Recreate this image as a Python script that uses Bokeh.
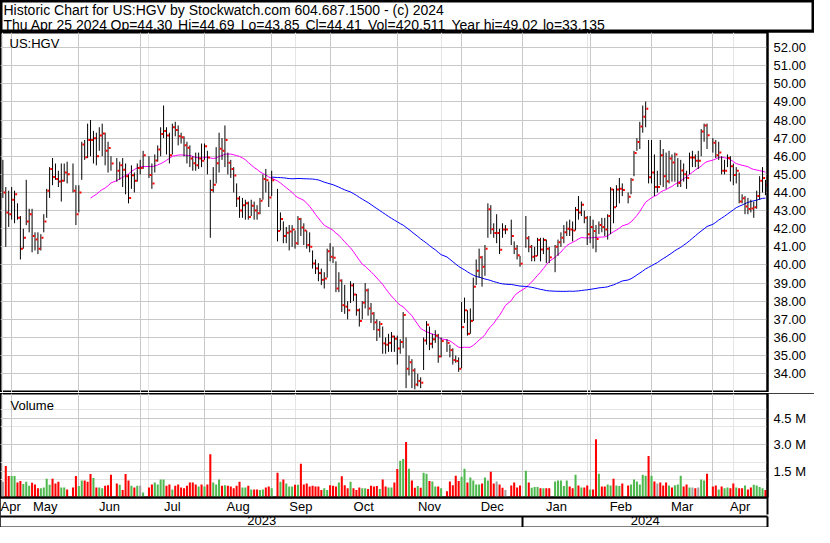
import numpy as np
import pandas as pd
from bokeh.plotting import figure
from bokeh.layouts import column
from bokeh.models import (Range1d, LinearAxis, FixedTicker, Grid, Label,
                          CustomJSTickFormatter, NumeralTickFormatter)
from bokeh.embed import file_html
from bokeh.resources import INLINE
from bokeh.core.properties import value

FONT = "Liberation Sans"

# ---------------- data ----------------
FIRST_DAY = "2023-04-26"
LAST_DAY = "2024-04-25"
HOLIDAYS = ["2023-05-29", "2023-06-19", "2023-07-04", "2023-09-04", "2023-11-23",
            "2023-12-25", "2024-01-01", "2024-01-15", "2024-02-19", "2024-03-29"]

close = [
    44.0, 42.9, 42.8, 43.6, 43.9, 42.6, 40.9, 41.5, 42.4, 42.8, 41.6, 41.4, 40.9, 41.5, 42.4, 44.1, 45.3, 44.85, 44.75, 44.6, 44.65, 45.1, 45.0, 44.1, 42.8,
    44.0, 46.65, 45.95, 46.9, 46.9, 47.0, 46.0, 47.15, 47.25, 46.3, 46.45, 45.6, 45.2, 45.5, 45.25, 44.9, 43.7, 44.95, 44.65, 45.35, 45.35,
    46.06, 44.96, 44.5, 45.76, 46.37, 47.23, 47.4, 47.14, 46.06, 47.6, 47.45, 47.1, 47.05, 46.6, 46.47, 45.88, 45.61, 45.5, 45.88, 45.75,
    46.55, 45.93, 44.13, 44.42, 45.61, 46.42, 46.3, 46.9, 45.64, 45.3, 44.94, 43.67, 43.0, 43.3, 43.4, 42.64, 43.27, 43.0, 42.86, 43.54, 44.74, 44.67, 43.72,
    44.67, 41.88, 42.53, 41.6, 41.78, 41.85, 41.95, 41.2, 42.53, 42.07, 41.9, 41.1, 41.0, 40.08, 39.81, 39.55, 39.18, 39.25, 40.75, 40.45,
    40.4, 38.7, 39.14, 37.78, 37.7, 37.5, 38.87, 38.37, 37.5, 36.91, 37.92, 38.6, 37.6, 37.32, 36.83, 36.42, 36.74, 35.67, 35.6, 35.7, 36.05, 35.93,
    35.39, 35.75, 37.24, 34.27, 34.63, 34.18, 33.4, 33.6, 33.5, 35.83, 36.7, 35.65, 35.9, 36.1, 34.95, 35.8, 35.7, 35.3, 34.75, 34.7, 34.27,
    36.57, 37.5, 36.2, 36.91, 38.8, 39.68, 40.42, 39.9, 40.9, 43.07, 41.97, 41.77, 41.77, 40.84, 41.95, 41.95, 41.6, 40.9, 40.53, 40.07,
    41.47, 41.0, 40.45, 40.5, 41.38, 40.85, 41.38, 40.9, 40.42, 41.0, 41.25, 41.5, 41.8, 42.0, 41.95, 41.9, 43.03, 42.9, 43.32, 42.6, 41.7,
    42.1, 41.88, 41.43, 42.2, 42.1, 41.95, 42.7, 44.17, 43.18, 44.17, 44.2, 44.13, 43.77, 44.7, 46.18, 46.78, 47.64, 48.18, 48.62, 44.84,
    45.1, 44.3, 44.3, 46.06, 44.9, 44.62, 45.88, 45.65, 46.1, 44.53, 45.21, 45.0, 44.8, 45.93, 45.93, 45.75, 45.75, 47.37, 47.7, 47.16,
    46.74, 46.06, 46.2, 45.2, 45.2, 45.9, 45.45, 44.96, 45.2, 43.5, 43.68, 43.23, 43.09, 43.12, 43.18, 43.8, 44.65, 44.8, 44.41,
]
high = [
    45.8, 44.3, 44.1, 44.3, 44.1, 43.4, 42.7, 42.0, 44.7, 43.1, 43.1, 41.8, 41.8, 41.7, 42.8, 44.2, 45.4, 45.9, 45.6, 45.2, 45.6, 45.6, 45.7, 45.6, 44.4,
    44.4, 46.8, 46.9, 47.8, 48.0, 47.4, 47.3, 47.6, 47.8, 47.3, 46.8, 46.0, 45.9, 45.7, 45.9, 45.6, 45.0, 45.5, 45.1, 45.6, 45.8,
    46.3, 46.0, 45.6, 46.1, 46.6, 47.6, 48.8, 47.6, 47.3, 47.8, 47.9, 47.7, 47.3, 47.1, 46.8, 46.6, 46.0, 46.2, 46.2, 46.7,
    46.7, 46.3, 44.7, 45.4, 46.5, 47.3, 47.0, 47.7, 46.2, 45.8, 45.4, 44.5, 43.8, 43.7, 43.6, 43.5, 43.6, 43.5, 43.3, 43.7, 45.0, 45.3, 44.6,
    45.2, 44.2, 42.9, 42.4, 42.1, 42.2, 42.2, 41.9, 42.7, 42.6, 42.3, 41.9, 41.8, 40.8, 40.3, 40.1, 39.8, 39.6, 40.9, 41.2,
    41.0, 40.2, 39.6, 39.2, 38.9, 38.0, 39.1, 39.0, 38.4, 37.6, 38.0, 39.0, 38.7, 37.9, 37.4, 37.0, 36.9, 36.6, 36.0, 36.2, 36.3, 36.1,
    36.1, 35.9, 37.4, 36.0, 35.0, 34.8, 34.3, 34.0, 33.8, 36.0, 36.9, 36.6, 36.2, 36.4, 36.2, 36.0, 35.9, 35.6, 35.4, 35.0, 34.9,
    37.95, 38.2, 37.5, 37.6, 39.3, 40.3, 40.9, 40.5, 41.1, 43.4, 43.3, 42.3, 42.8, 42.0, 42.3, 42.2, 42.5, 41.3, 41.1, 40.5,
    42.7, 41.6, 41.1, 41.0, 41.5, 41.5, 41.5, 41.4, 41.0, 41.1, 41.4, 41.8, 42.2, 42.4, 42.5, 42.4, 43.2, 43.8, 43.5, 43.0, 42.7,
    42.7, 42.5, 42.2, 42.4, 42.6, 42.6, 42.8, 44.3, 44.2, 44.4, 44.8, 44.5, 44.0, 44.8, 46.3, 47.0, 47.9, 48.8, 49.02, 46.9,
    46.9, 46.1, 45.2, 46.9, 46.4, 46.2, 46.3, 46.1, 46.2, 45.9, 45.8, 45.6, 45.2, 46.2, 46.3, 46.1, 46.3, 47.5, 47.8, 47.8,
    47.0, 46.9, 46.8, 46.0, 45.8, 46.1, 46.0, 45.6, 45.4, 45.1, 43.9, 43.8, 43.7, 43.6, 43.5, 44.1, 44.9, 45.4, 44.69,
]
low = [
    43.7, 41.0, 42.1, 42.5, 42.3, 42.5, 40.3, 40.9, 42.2, 41.8, 40.7, 40.8, 40.6, 40.8, 41.8, 42.6, 43.7, 44.4, 44.7, 44.3, 43.5, 44.6, 44.5, 44.0, 42.2,
    42.9, 44.7, 45.8, 45.9, 46.0, 45.6, 45.5, 46.3, 46.0, 45.5, 45.1, 45.2, 44.6, 44.7, 44.3, 43.9, 43.4, 44.2, 44.0, 44.6, 45.0,
    45.3, 44.8, 44.2, 45.1, 45.7, 46.0, 47.0, 46.1, 45.6, 46.1, 47.1, 46.6, 46.7, 46.0, 45.6, 45.4, 45.2, 45.2, 45.3, 45.4,
    45.8, 45.0, 41.5, 44.0, 44.5, 45.1, 45.8, 45.4, 45.0, 44.8, 44.0, 43.2, 42.6, 42.6, 42.5, 42.5, 42.7, 42.5, 42.5, 42.8, 43.6, 44.0, 43.2,
    43.8, 41.3, 41.9, 41.2, 41.2, 40.8, 41.0, 40.9, 41.1, 41.6, 41.1, 40.9, 40.7, 39.8, 39.5, 39.1, 38.9, 38.7, 39.3, 40.2,
    40.1, 38.5, 38.5, 37.4, 37.3, 37.0, 37.9, 38.0, 37.2, 36.6, 37.0, 37.6, 37.2, 36.8, 36.4, 35.8, 36.0, 35.1, 35.1, 35.2, 35.2, 35.2,
    34.5, 35.1, 35.4, 33.2, 33.9, 33.2, 33.135, 33.3, 33.2, 34.2, 35.6, 35.3, 35.4, 35.7, 34.6, 34.9, 35.2, 34.9, 34.5, 34.6, 34.1,
    34.3, 36.8, 36.1, 36.2, 36.9, 38.9, 39.3, 38.8, 39.4, 41.5, 41.7, 41.5, 41.2, 40.6, 41.5, 41.7, 41.1, 40.6, 40.3, 39.9,
    40.95, 40.7, 40.2, 40.2, 40.5, 40.2, 40.6, 40.1, 40.1, 39.6, 40.5, 41.0, 41.2, 41.6, 41.6, 41.3, 41.9, 42.5, 42.7, 42.3, 41.1,
    41.2, 40.9, 40.7, 41.7, 41.8, 41.6, 41.4, 41.7, 42.3, 43.2, 43.4, 43.8, 43.4, 43.9, 44.9, 46.3, 46.4, 47.3, 47.6, 44.5,
    44.5, 43.8, 44.0, 44.4, 44.3, 44.2, 44.5, 44.6, 44.6, 44.3, 44.3, 44.6, 44.2, 45.0, 45.4, 45.4, 45.3, 46.0, 46.8, 46.4,
    46.2, 45.9, 45.8, 45.0, 45.0, 45.4, 44.6, 44.4, 44.5, 43.4, 43.4, 42.8, 42.8, 42.9, 42.6, 43.1, 43.6, 44.0, 43.85,
]
# volume in millions of shares
volume = [
    0.89, 1.78, 1.22, 1.22, 1.22, 0.85, 0.94, 0.76, 0.89, 0.66, 0.83, 0.74, 0.52, 0.52, 0.57, 1.07, 0.72, 1.07, 0.79, 0.89, 0.57, 0.57, 0.46, 0.57, 1.22,
    0.65, 0.96, 0.96, 0.89, 1.33, 1.11, 0.57, 0.57, 0.52, 0.66, 0.70, 1.29, 0.79, 0.72, 0.42, 1.33, 0.96, 0.66, 0.57, 0.66, 0.66,
    0.29, 0.57, 0.74, 0.85, 0.74, 1.02, 1.02, 0.66, 0.74, 0.46, 0.66, 0.74, 0.57, 0.52, 0.66, 0.85, 0.85, 0.74, 0.63, 0.74,
    0.63, 0.74, 2.46, 0.85, 0.74, 1.02, 0.66, 0.70, 0.66, 0.63, 0.52, 0.66, 0.89, 0.57, 0.57, 0.66, 0.46, 0.46, 0.46, 0.42, 0.46, 0.57, 0.63,
    0.52, 1.41, 0.89, 1.02, 0.79, 0.63, 0.63, 0.72, 0.72, 1.91, 0.74, 0.79, 0.63, 0.66, 0.63, 0.63, 0.42, 0.52, 0.42, 0.70,
    0.66, 0.63, 0.85, 1.20, 0.70, 0.52, 0.89, 0.52, 0.42, 0.57, 0.52, 0.52, 0.48, 0.66, 0.63, 0.65, 0.48, 1.02, 0.63, 0.57, 0.57, 0.85,
    1.61, 2.09, 2.18, 3.15, 1.63, 0.96, 0.55, 0.65, 0.55, 1.41, 1.35, 0.93, 0.91, 0.63, 0.63, 0.52, 0.35, 0.91, 0.70, 1.24, 0.94,
    1.18, 1.63, 0.85, 1.13, 0.96, 0.74, 0.74, 0.79, 1.13, 0.96, 1.46, 0.79, 0.91, 0.74, 0.55, 0.42, 0.68, 0.85, 0.57, 0.68,
    1.52, 0.85, 0.55, 0.59, 0.59, 0.52, 0.52, 0.52, 0.52, 0.91, 0.96, 0.96, 0.65, 0.96, 0.63, 0.52, 1.29, 0.68, 0.57, 0.57, 0.68,
    0.46, 0.46, 3.30, 1.35, 0.63, 0.63, 0.74, 0.68, 1.07, 0.68, 0.65, 0.79, 0.68, 0.74, 1.02, 0.91, 0.74, 1.29, 1.24, 2.35,
    1.24, 0.91, 0.79, 0.85, 0.68, 0.85, 0.68, 0.57, 0.70, 0.74, 1.24, 0.63, 0.74, 0.57, 0.57, 0.52, 0.57, 1.02, 0.96, 1.35,
    0.63, 0.68, 0.46, 0.63, 0.52, 0.57, 0.52, 0.79, 0.57, 0.52, 0.52, 0.68, 0.46, 0.57, 0.72, 0.68, 0.59, 0.52, 0.42,
]
# day-on-day direction of each volume bar: u = up, d = down, n = unchanged
vol_dir = "".join("""
n dd uu dd uuu ddd uuuu ddd uu ddd
uu ddd u d uu ddd d u ddd u d u n
u dd uuuu dd u dddddddd u d
u dd uuu d u ddddd uu d u dd uu dd
u d u d uuu d u dddddddd uu d
dd u ddd u ddd uu dddd u dd uu d
d uu d u dd u d uu d uu d u ddddd
uu d uuuu d uu dd n dd n dddd
u d uuu d u dd uuuuu dd u d u dd
u dd u dd uu d uu d d uuuuuu d
u d n ddd u d uuu dd u n d n uu d
dd u d uu dd u dd u dd uuuu d
""".split())

MA_FAST, MA_SLOW = 30, 90
PRICE_TICKS = list(range(34, 53))
VOL_TICKS = [1.5, 3.0, 4.5]
MONTH_LABELS = ["Apr", "May", "Jun", "Jul", "Aug", "Sep", "Oct", "Nov", "Dec",
                "Jan", "Feb", "Mar", "Apr"]
YEAR_LABELS = ["2023", "2024"]
TITLE_1 = "Historic Chart for US:HGV by Stockwatch.com 604.687.1500 - (c) 2024"
TITLE_2 = ["Thu Apr 25 2024", "Op=44.30", "Hi=44.69", "Lo=43.85", "Cl=44.41",
           "Vol=420,511", "Year hi=49.02", "lo=33.135"]

assert len(close) == len(high) == len(low) == len(volume) == len(vol_dir)

# ---------------- geometry ----------------
slots = pd.bdate_range(FIRST_DAY, LAST_DAY)
is_trade = ~slots.isin(pd.to_datetime(HOLIDAYS))
xk = np.flatnonzero(is_trade).astype(float)
assert len(xk) == len(close)

month_starts = pd.date_range("2023-05-01", "2024-04-01", freq="MS")
month_grid = [float(slots.searchsorted(m, side="right") - 1) for m in month_starts]
X0, X1 = -0.81, 261.7
edges = [X0] + month_grid + [X1]
month_centers = [(edges[i] + edges[i + 1]) / 2 for i in range(len(edges) - 1)]
jan = month_grid[8]
year_centers = [(X0 + jan) / 2, (jan + X1) / 2]

W, RIGHT = 814, 47
GRID = "#c8c8c8"
BOX = {"outline": "2px solid black", "outline-offset": "-2px"}


def label_style(axis, size="13px"):
    axis.major_label_text_font = FONT
    axis.major_label_text_font_size = size
    axis.major_label_text_color = "black"
    axis.axis_line_color = "black"
    axis.axis_line_width = 2
    axis.major_tick_out = 0
    axis.major_tick_in = 0
    return axis


# ---------------- title ----------------
t = figure(width=W, height=32, x_range=Range1d(0, W), y_range=Range1d(32, 0),
           x_axis_location=None, y_axis_location=None, toolbar_location=None,
           output_backend="svg", min_border=0, outline_line_color="black",
           outline_line_width=4, frame_align=False)
t.xgrid.visible = False
t.ygrid.visible = False
t.text(x=[3], y=[1], text=[TITLE_1], text_font=value(FONT), text_font_size="14px",
       text_baseline="top", text_color="black")
t2x = [3, 110, 177.6, 240.2, 304.9, 367.5, 451, 542.5]
t.text(x=t2x, y=[16] * len(t2x), text=TITLE_2, text_font=value(FONT),
       text_font_size="14px", text_baseline="top", text_color="black")

# ---------------- price panel ----------------
p = figure(width=W, height=360, x_range=Range1d(X0, X1), y_range=Range1d(32.96, 52.83),
           x_axis_location=None, y_axis_location=None, toolbar_location=None,
           output_backend="svg", min_border_left=0, min_border_right=RIGHT,
           min_border_top=0, min_border_bottom=0, outline_line_color="black",
           outline_line_width=2, styles=BOX)
p.add_layout(Grid(dimension=0, ticker=FixedTicker(ticks=month_grid), grid_line_color=GRID))
p.add_layout(Grid(dimension=1, ticker=FixedTicker(ticks=PRICE_TICKS), grid_line_color=GRID))
ya = label_style(LinearAxis(ticker=FixedTicker(ticks=PRICE_TICKS),
                            formatter=NumeralTickFormatter(format="0.00"),
                            minor_tick_out=0, minor_tick_in=0, major_label_standoff=6))
p.add_layout(ya, "right")

s = pd.Series(close)
for n, col in ((MA_FAST, "#ff00ff"), (MA_SLOW, "#0000ff")):
    ma = s.rolling(n).mean().to_numpy()
    ok = ~np.isnan(ma)
    p.line(xk[ok], ma[ok], line_color=col, line_width=1)

p.segment(x0=xk, y0=low, x1=xk, y1=high, line_color="black", line_width=1)
p.rect(x=xk + 0.55, y=close, width=2, height=2, width_units="screen",
       height_units="screen", fill_color="#ff0000", line_color=None)
p.add_layout(Label(x=X0 + 9 / 2.922, y=52.66, text="US:HGV", text_font=FONT,
                   text_font_size="13px", text_baseline="top", text_color="black"))

# ---------------- volume panel ----------------
v = figure(width=W, height=134, x_range=p.x_range, y_range=Range1d(0, 5.9),
           x_axis_location=None, y_axis_location=None, toolbar_location=None,
           output_backend="svg", min_border_left=0, min_border_right=RIGHT,
           min_border_top=0, min_border_bottom=0, outline_line_color="black",
           outline_line_width=2, styles=dict(BOX, **{"margin-top": "1px"}))
v.add_layout(Grid(dimension=0, ticker=FixedTicker(ticks=month_grid), grid_line_color=GRID))
v.add_layout(Grid(dimension=1, ticker=FixedTicker(ticks=VOL_TICKS), grid_line_color=GRID))
va = label_style(LinearAxis(ticker=FixedTicker(ticks=VOL_TICKS),
                            formatter=CustomJSTickFormatter(code="return tick.toFixed(1) + ' M';"),
                            minor_tick_out=0, minor_tick_in=0, major_label_standoff=6))
v.add_layout(va, "right")
colors = {"u": "#4fb84f", "d": "#ff0000", "n": "#a0a0a0"}
v.vbar(x=xk, top=volume, bottom=0, width=0.7, fill_color=[colors[c] for c in vol_dir],
       line_color=None)
v.add_layout(Label(x=X0 + 10 / 2.922, y=5.67, text="Volume", text_font=FONT,
                   text_font_size="13px", text_baseline="top", text_color="black"))

mx = label_style(LinearAxis(ticker=FixedTicker(ticks=month_centers, minor_ticks=[X1 - 0.05]),
                            formatter=CustomJSTickFormatter(args=dict(labels=MONTH_LABELS),
                                                            code="return labels[index];"),
                            minor_tick_out=17, minor_tick_in=0,
                            minor_tick_line_color="black", minor_tick_line_width=2,
                            major_label_standoff=-16))
v.add_layout(mx, "below")
yx = label_style(LinearAxis(ticker=FixedTicker(ticks=year_centers, minor_ticks=[jan, X1 - 0.05]),
                            formatter=CustomJSTickFormatter(args=dict(labels=YEAR_LABELS),
                                                            code="return labels[index];"),
                            minor_tick_out=16, minor_tick_in=0,
                            minor_tick_line_color="black", minor_tick_line_width=2,
                            major_label_standoff=-17))
v.add_layout(yx, "below")
# closing rule under the year row
bx = label_style(LinearAxis(ticker=FixedTicker(ticks=[]), minor_tick_out=0, minor_tick_in=0,
                            major_label_standoff=0))
v.add_layout(bx, "below")

layout = column(t, p, v, spacing=0)
open("out.html", "w").write(file_html(layout, INLINE))
